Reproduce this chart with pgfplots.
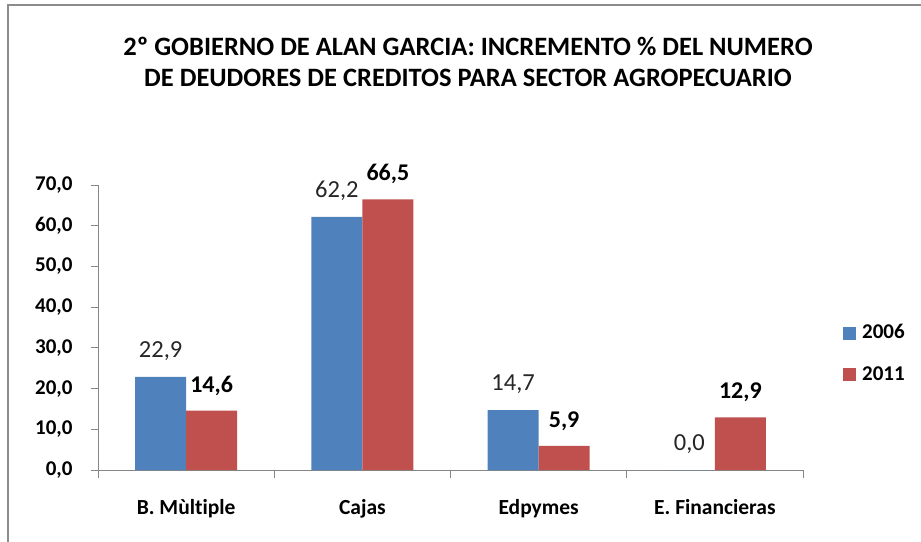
\documentclass[border=0pt]{standalone}
\usepackage{fontspec}
\setmainfont{Carlito}[Ligatures=NoCommon]
\usepackage{pgfplots}
\pgfplotsset{compat=1.18}
\definecolor{cblue}{HTML}{4F81BD}
\definecolor{cred}{HTML}{C0504D}
\definecolor{axgray}{HTML}{868686}
\definecolor{framegray}{HTML}{8C8C8C}
\begin{document}
\begin{tikzpicture}
\path[use as bounding box] (0,0) rectangle (921bp,-542bp);
\draw[color=framegray, line width=2bp] (8bp,-542bp) -- (8bp,-5bp) -- (921bp,-5bp);
\node[font=\bfseries\fontsize{26.5bp}{31bp}\selectfont, align=center, text=black] at (468bp,-62bp)
  {2º GOBIERNO DE ALAN GARCIA: INCREMENTO \% DEL NUMERO\\DE DEUDORES DE CREDITOS PARA SECTOR AGROPECUARIO};
\begin{axis}[
  at={(98bp,-470bp)}, anchor=south west,
  scale only axis, width=705bp, height=285bp,
  xmin=-0.5, xmax=3.5, ymin=0, ymax=70,
  ybar=0pt, bar width=51bp,
  axis x line*=bottom, axis y line*=left,
  axis line style={axgray, line width=1bp},
  tick align=outside, major tick length=7bp, minor tick length=8bp,
  tick style={axgray, line width=1bp},
  xtick={0,1,2,3},
  xticklabels={B. Mùltiple, Cajas, Edpymes, E. Financieras},
  minor xtick={-0.5,0.5,1.5,2.5,3.5},
  major x tick style={draw=none},
  ytick={0,10,...,70},
  /pgf/number format/.cd, fixed, fixed zerofill, precision=1, use comma, assume math mode=true,
  /pgfplots/.cd,
  xticklabel style={font=\bfseries\fontsize{21.5bp}{24bp}\selectfont, anchor=base, yshift=-37bp},
  yticklabel style={font=\bfseries\fontsize{21bp}{24bp}\selectfont, anchor=east, xshift=-15bp},
  legend style={at={(1.0567,0.407)}, anchor=west, draw=none, fill=none, inner sep=0pt,
    font=\bfseries\fontsize{21bp}{24bp}\selectfont, row sep=20.5bp,
    nodes={text height=14bp, text depth=3bp, inner sep=2bp},
    /tikz/every odd column/.append style={column sep=4bp}},
  legend cell align=left,
]
\addplot+[fill=cblue, draw=none,
  legend image code/.code={\fill[cblue] (0bp,-6.5bp) rectangle (13bp,6.5bp);},
  nodes near coords,
  every node near coord/.append style={font=\fontsize{24.5bp}{28bp}\selectfont, text=black!85, anchor=center, yshift=26bp}]
  coordinates {(0,22.9) (1,62.2) (2,14.7) (3,0.0)};
\addplot+[fill=cred, draw=none,
  legend image code/.code={\fill[cred] (0bp,-6.5bp) rectangle (13bp,6.5bp);},
  nodes near coords,
  every node near coord/.append style={font=\bfseries\fontsize{24bp}{28bp}\selectfont, text=black, anchor=center, yshift=25bp}]
  coordinates {(0,14.6) (1,66.5) (2,5.9) (3,12.9)};
\legend{2006,2011}
\end{axis}
\end{tikzpicture}
\end{document}
